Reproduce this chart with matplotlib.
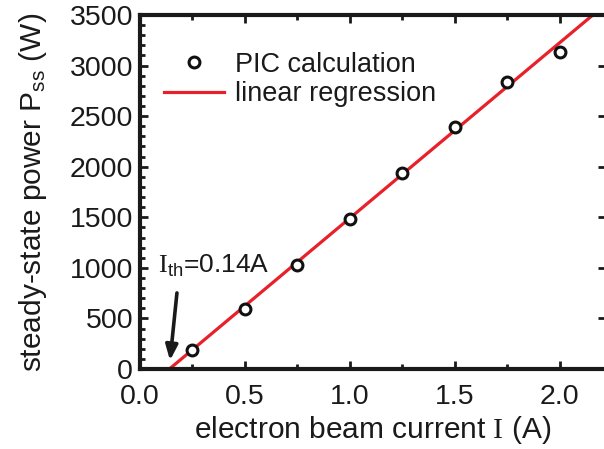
import numpy as np
import matplotlib
matplotlib.use("Agg")
import matplotlib.pyplot as plt
from matplotlib.ticker import MultipleLocator, FormatStrFormatter

plt.rcParams['font.family'] = ['Liberation Sans', 'DejaVu Sans']
plt.rcParams['mathtext.fontset'] = 'custom'
plt.rcParams['mathtext.rm'] = 'Liberation Serif'
plt.rcParams['mathtext.sf'] = 'Liberation Sans'
plt.rcParams['mathtext.it'] = 'Liberation Sans:italic'

# PIC results: beam current (A) vs steady-state power (W)
current = [0.25, 0.5, 0.75, 1.0, 1.25, 1.5, 1.75, 2.0]
power = [188, 590, 1030, 1483, 1940, 2397, 2835, 3138]

# linear regression: P = slope * (I - I_th)
i_th = 0.14
slope = 1735

ink = '#1a1a1a'

fig = plt.figure(figsize=(6.04, 4.49), dpi=100)
ax = fig.add_axes([140/604, 1 - 369/449, 466/604, 354/449])

xf = np.array([i_th, 2.3])
ax.plot(xf, slope * (xf - i_th), color='#e8202a', lw=2.3, label='linear regression', zorder=2)
ax.plot(current, power, 'o', mfc='white', mec='#111111', mew=2.2, ms=7.8,
        label='PIC calculation', zorder=3)

ax.set_xlim(0, 2.22)
ax.set_ylim(0, 3500)
ax.xaxis.set_major_locator(MultipleLocator(0.5))
ax.xaxis.set_minor_locator(MultipleLocator(0.25))
ax.yaxis.set_major_locator(MultipleLocator(500))
ax.yaxis.set_minor_locator(MultipleLocator(100))
ax.xaxis.set_major_formatter(FormatStrFormatter('%.1f'))

ax.tick_params(which='both', direction='in', top=True, right=True, color=ink,
               labelsize=20.5, labelcolor=ink, width=2)
ax.tick_params(which='major', length=6)
ax.tick_params(which='minor', length=3.5)
ax.tick_params(axis='x', which='major', pad=11)
ax.tick_params(axis='y', which='major', pad=5)
ax.tick_params(axis='y', which='minor', right=False)
for s in ax.spines.values():
    s.set_linewidth(3)
    s.set_color(ink)

ax.set_xlabel(r'electron beam current $\mathrm{I}$ (A)', fontsize=21.5, color=ink, labelpad=3)
ax.set_ylabel(r'steady-state power P$_{\mathsf{ss}}$ (W)', fontsize=21.5, color=ink, labelpad=15)

handles, labels = ax.get_legend_handles_labels()
ax.legend(handles[::-1], labels[::-1], loc='upper left', bbox_to_anchor=(0.0, 0.965),
          frameon=False, fontsize=19.5, handlelength=2.2, handletextpad=0.4,
          labelspacing=0.12, labelcolor=ink)

ax.annotate('', xy=(0.143, 85), xytext=(0.176, 752),
            arrowprops=dict(arrowstyle='-|>,head_length=0.9,head_width=0.36', lw=2.6,
                            color=ink, shrinkA=0, shrinkB=0))
ax.text(0.085, 890, r'$\mathrm{I}_{\mathsf{th}}$=0.14A', fontsize=19, color=ink,
        ha='left', va='bottom')

fig.savefig('out.png', dpi=100)
